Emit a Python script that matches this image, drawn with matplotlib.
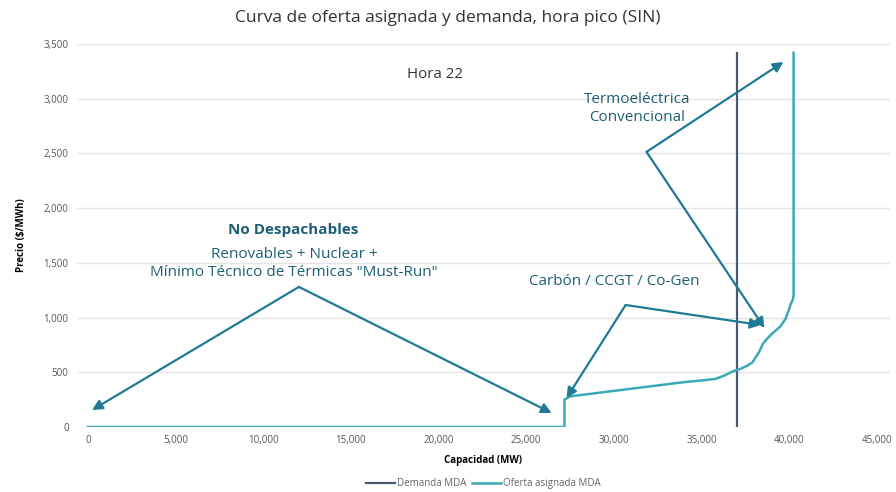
import matplotlib.pyplot as plt

# oferta asignada MDA (capacidad acumulada MW, precio $/MWh)
oferta_mw = [0, 27180, 27180, 27500, 28000, 29000, 30000, 31000, 32000, 33000,
             34000, 35000, 35800, 36300, 36800, 37200, 37600, 37900, 38100,
             38300, 38500, 38700, 39000, 39500, 39800, 40000, 40100, 40200,
             40250, 40250]
oferta_precio = [0, 0, 250, 280, 290, 310, 330, 350, 370, 390,
                 410, 425, 440, 470, 510, 530, 560, 590, 640,
                 690, 760, 800, 850, 920, 990, 1080, 1130, 1160,
                 1200, 3420]

demanda_mw = [37000, 37000]
demanda_precio = [0, 3420]

x_ticks = [0, 5000, 10000, 15000, 20000, 25000, 30000, 35000, 40000, 45000]
y_ticks = [0, 500, 1000, 1500, 2000, 2500, 3000, 3500]

c_oferta = '#3aaab5'
c_demanda = '#4a5b70'
c_arrow = '#1f7b95'
c_text = '#1d5f75'

plt.rcParams['font.family'] = ['Open Sans', 'DejaVu Sans']

fig = plt.figure(figsize=(8.96, 4.92), dpi=100)
ax = fig.add_axes([0.0859, 0.1321, 0.9074, 0.7785])

ax.plot(demanda_mw, demanda_precio, color=c_demanda, lw=1.6, label='Demanda MDA', zorder=3)
ax.plot(oferta_mw, oferta_precio, color=c_oferta, lw=1.8, label='Oferta asignada MDA', zorder=3)

ax.set_xlim(-630, 45750)
ax.set_ylim(0, 3500)
ax.set_xticks(x_ticks)
ax.set_yticks(y_ticks)
ax.set_xticklabels([f'{v:,}' for v in x_ticks])
ax.set_yticklabels([f'{v:,}' for v in y_ticks])
ax.tick_params(length=0, labelsize=7, colors='#555555', pad=6)
ax.grid(axis='y', color='#e4e4e4', lw=1)
ax.set_axisbelow(True)
for s in ax.spines.values():
    s.set_visible(False)

ax.set_xlabel('Capacidad (MW)', fontsize=7, fontweight='bold', labelpad=6)
ax.set_ylabel('Precio ($/MWh)', fontsize=7, fontweight='bold', labelpad=12)
fig.suptitle('Curva de oferta asignada y demanda, hora pico (SIN)', fontsize=12.5,
             color='#333333', y=0.98)

ax.text(19800, 3217, 'Hora 22', fontsize=10.8, color='#333333', ha='center', va='center')

arrow = dict(arrowstyle='-|>', color=c_arrow, lw=1.6, mutation_scale=15, shrinkA=0, shrinkB=0)

# Termoeléctrica convencional
ax.text(31300, 2910, 'Termoeléctrica\nConvencional', fontsize=11, color=c_text,
        ha='center', va='center', linespacing=1.3)
ax.annotate('', xy=(39670, 3336), xytext=(31860, 2514), arrowprops=arrow)
ax.annotate('', xy=(38590, 905), xytext=(31860, 2514), arrowprops=arrow)

# Carbón / CCGT / Co-Gen
ax.text(30040, 1334, 'Carbón / CCGT / Co-Gen', fontsize=11, color=c_text,
        ha='center', va='center')
ax.annotate('', xy=(27300, 265), xytext=(30670, 1115), arrowprops=arrow)
ax.annotate('', xy=(38360, 932), xytext=(30670, 1115), arrowprops=arrow)

# No despachables
ax.text(11700, 1800, 'No Despachables', fontsize=11, fontweight='bold', color=c_text,
        ha='center', va='center')
ax.text(11750, 1494, 'Renovables + Nuclear +\nMínimo Técnico de Térmicas "Must-Run"',
        fontsize=11, color=c_text, ha='center', va='center', linespacing=1.3)
ax.annotate('', xy=(230, 155), xytext=(12030, 1280), arrowprops=arrow)
ax.annotate('', xy=(26450, 128), xytext=(12030, 1280), arrowprops=arrow)

leg = ax.legend(loc='center', bbox_to_anchor=(0.5, -0.148), ncol=2, frameon=False,
                fontsize=7, handlelength=3, handletextpad=0.2, columnspacing=0.6,
                borderpad=0)
for t in leg.get_texts():
    t.set_color('#666666')

fig.savefig('out.png', dpi=100)
